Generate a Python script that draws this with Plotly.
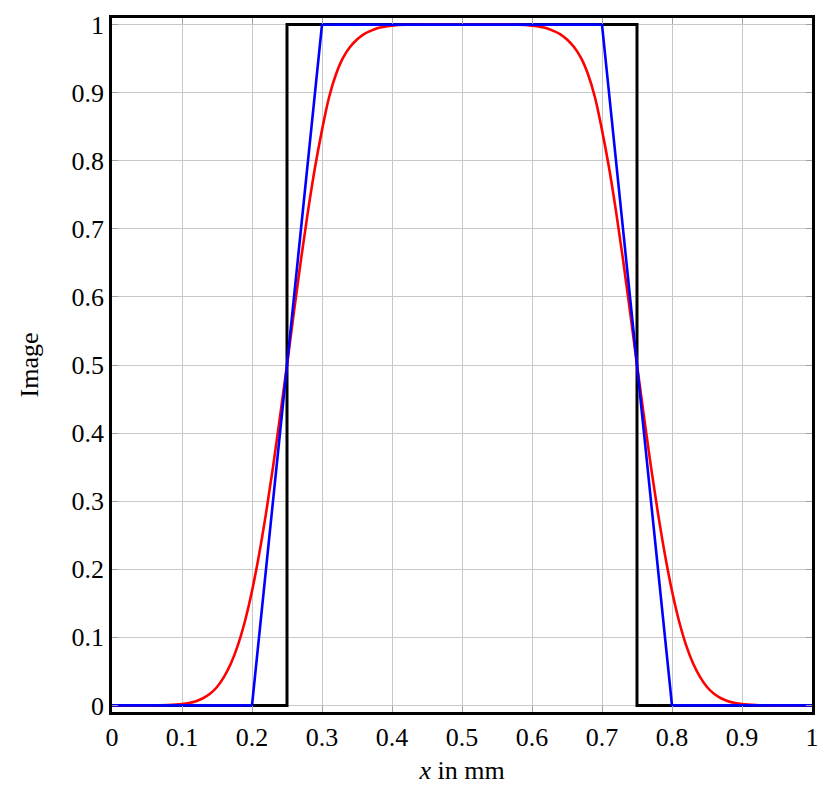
import plotly.graph_objects as go

# ideal object (black rectangle)
rect_x = [0, 0.25, 0.25, 0.75, 0.75, 1]
rect_y = [0, 0, 1, 1, 0, 0]

# linear edge image (blue trapezoid)
trap_x = [0, 0.2, 0.3, 0.7, 0.8, 1]
trap_y = [0, 0, 1, 1, 0, 0]

# smooth image (red)
smooth_x = [0, 0.05, 0.08, 0.10, 0.11, 0.12, 0.13, 0.14, 0.15, 0.16, 0.17, 0.18, 0.19,
            0.20, 0.21, 0.22, 0.23, 0.24, 0.25, 0.26, 0.27, 0.28, 0.29,
            0.30, 0.31, 0.32, 0.33, 0.34, 0.35, 0.36, 0.37, 0.38, 0.39,
            0.40, 0.42, 0.50, 0.58, 0.60, 0.61, 0.62, 0.63, 0.64, 0.65,
            0.66, 0.67, 0.68, 0.69, 0.70, 0.71, 0.72, 0.73, 0.74, 0.75,
            0.76, 0.77, 0.78, 0.79, 0.80, 0.81, 0.82, 0.83, 0.84, 0.85,
            0.86, 0.87, 0.88, 0.89, 0.90, 0.92, 0.95, 1]
smooth_y = [0, 0, 0.0006, 0.002, 0.0036, 0.0062, 0.0105, 0.017, 0.027, 0.042, 0.062, 0.089, 0.124,
            0.168, 0.221, 0.282, 0.35, 0.424, 0.5, 0.579, 0.655, 0.726, 0.79,
            0.845, 0.893, 0.927, 0.951, 0.967, 0.978, 0.986, 0.991, 0.995, 0.997,
            0.9985, 0.9997, 1.0, 0.9997, 0.9985, 0.997, 0.995, 0.991, 0.986, 0.978,
            0.967, 0.951, 0.927, 0.893, 0.845, 0.79, 0.726, 0.655, 0.579, 0.5,
            0.424, 0.35, 0.282, 0.221, 0.168, 0.124, 0.089, 0.062, 0.042, 0.027,
            0.017, 0.0105, 0.0062, 0.0036, 0.002, 0.0006, 0, 0]

x_ticks = [0, 0.1, 0.2, 0.3, 0.4, 0.5, 0.6, 0.7, 0.8, 0.9, 1]
x_labels = ["0", "0.1", "0.2", "0.3", "0.4", "0.5", "0.6", "0.7", "0.8", "0.9", "1"]
y_ticks = [0, 0.1, 0.2, 0.3, 0.4, 0.5, 0.6, 0.7, 0.8, 0.9, 1]
y_labels = ["0", "0.1", "0.2", "0.3", "0.4", "0.5", "0.6", "0.7", "0.8", "0.9", "1"]

font_name = "Liberation Serif"
font_size = 26

fig = go.Figure()
fig.add_trace(go.Scatter(x=rect_x, y=rect_y, mode="lines",
                         line=dict(color="black", width=3)))
fig.add_trace(go.Scatter(x=smooth_x, y=smooth_y, mode="lines",
                         line=dict(color="#ff0000", width=2.6, shape="spline", smoothing=1)))
fig.add_trace(go.Scatter(x=trap_x, y=trap_y, mode="lines",
                         line=dict(color="#0000ff", width=2.6)))

axis_style = dict(
    showgrid=True, gridcolor="#c8c8c8", gridwidth=1,
    showline=True, linecolor="black", linewidth=2.5, mirror="allticks",
    ticks="inside", ticklen=6, tickcolor="#a0a0a0", tickwidth=1,
    zeroline=False, ticklabeloverflow="allow",
    tickfont=dict(family=font_name, size=font_size, color="black"),
)

fig.update_xaxes(range=[0, 1], tickvals=x_ticks, ticktext=x_labels,
                 title=dict(text="<i>x</i> in mm", font=dict(family=font_name, size=font_size, color="black"),
                            standoff=10),
                 **axis_style)
fig.update_yaxes(range=[-0.0097, 1.0097], tickvals=y_ticks, ticktext=y_labels,
                 title=dict(text="Image", font=dict(family=font_name, size=font_size, color="black"),
                            standoff=26),
                 **axis_style)

# the page adds an 8px body margin, so the figure is 8px smaller and shifted
fig.update_layout(
    width=821, height=779,
    margin=dict(l=104, r=17, t=3, b=75),
    plot_bgcolor="white", paper_bgcolor="white",
    showlegend=False,
)

fig.write_html("out.html")
